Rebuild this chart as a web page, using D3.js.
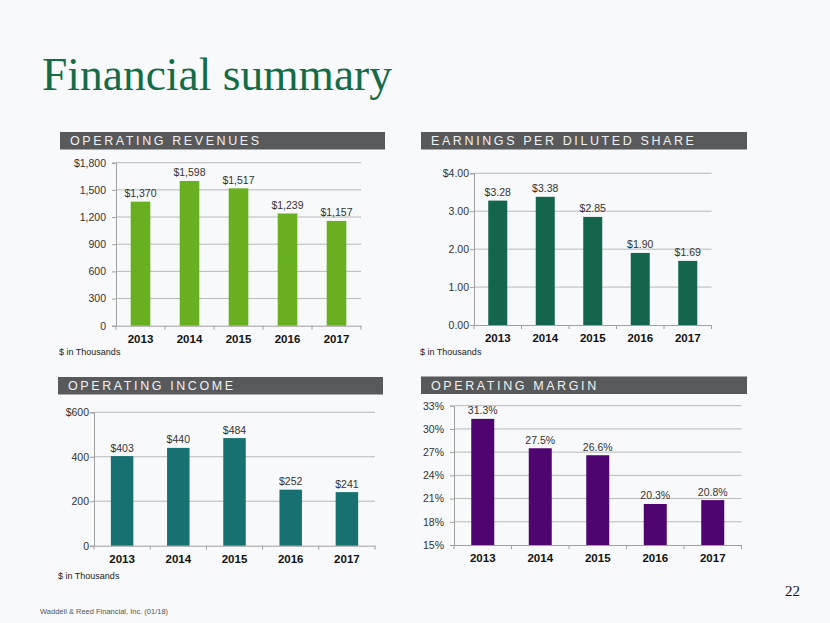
<!DOCTYPE html>
<html><head><meta charset="utf-8">
<script src="https://cdn.jsdelivr.net/npm/d3@7"></script>
<style>
html,body{margin:0;padding:0;background:#f8f9fa;}
svg{display:block;}
</style></head>
<body>
<svg id="c" width="830" height="623"></svg>
<script>
const years = ["2013","2014","2015","2016","2017"];
const revenues = [1370,1598,1517,1239,1157];
const eps = [3.28,3.38,2.85,1.90,1.69];
const opIncome = [403,440,484,252,241];
const opMargin = [31.3,27.5,26.6,20.3,20.8];

const revTicks = [0,300,600,900,1200,1500,1800];
const epsTicks = [0,1,2,3,4];
const incTicks = [0,200,400,600];
const marTicks = [15,18,21,24,27,30,33];

const svg = d3.select("#c");
svg.append("rect").attr("width",830).attr("height",623).attr("fill","#f8f9fa");

svg.append("text").attr("x",42).attr("y",90)
  .attr("font-family","'Liberation Serif','Times New Roman',serif")
  .attr("font-size",45.5).attr("fill","#146c47").text("Financial summary");

svg.append("text").attr("x",785).attr("y",596)
  .attr("font-family","'Liberation Serif','Times New Roman',serif")
  .attr("font-size",15).attr("fill","#111").text("22");

svg.append("text").attr("x",40).attr("y",614)
  .attr("font-family","'Liberation Sans',Arial,sans-serif")
  .attr("font-size",7.5).attr("fill","#555").text("Waddell & Reed Financial, Inc. (01/18)");

const sans = "'Liberation Sans',Arial,sans-serif";

function header(x,y,w,label){
  svg.append("rect").attr("x",x).attr("y",y).attr("width",w).attr("height",17.5).attr("fill","#58595b");
  svg.append("text").attr("x",x+10).attr("y",y+13.2)
    .attr("font-family",sans).attr("font-size",12.5).attr("fill","#f2f2f2")
    .style("letter-spacing","2.6px").text(label);
}

function chart(o){
  const x = d3.scaleBand().domain(years).range([o.x0,o.x1]).paddingInner(0.6).paddingOuter(0.3);
  const y = d3.scaleLinear().domain(o.domain).range([o.yb,o.yt]);
  const g = svg.append("g");
  g.selectAll(".grid").data(o.ticks.slice(1)).join("line")
    .attr("x1",o.x0).attr("x2",o.x1).attr("y1",d=>y(d)).attr("y2",d=>y(d))
    .attr("stroke","#b8b8b8").attr("stroke-width",1);
  const ya = d3.axisLeft(y).tickValues(o.ticks).tickSize(4).tickPadding(o.pad).tickFormat((d,i)=>o.fmt(d,i));
  const yg = g.append("g").attr("transform",`translate(${o.x0},0)`).call(ya);
  yg.select(".domain").attr("stroke","#a0a0a0");
  yg.selectAll(".tick line").attr("stroke","#a0a0a0");
  yg.selectAll("text").attr("font-family",sans).attr("font-size",10.5).attr("fill","#333");
  const xa = d3.axisBottom(x).tickSize(0).tickPadding(9);
  const xg = g.append("g").attr("transform",`translate(0,${o.yb})`).call(xa);
  xg.select(".domain").attr("stroke","#a0a0a0");
  xg.selectAll("text").attr("font-family",sans).attr("font-size",11.5).attr("font-weight","bold").attr("fill","#111");
  const step = x.step();
  g.selectAll(".sep").data(d3.range(6)).join("line")
    .attr("x1",d=>o.x0+d*step).attr("x2",d=>o.x0+d*step)
    .attr("y1",o.yb).attr("y2",o.yb+4).attr("stroke","#a0a0a0");
  g.selectAll(".bar").data(o.values).join("rect")
    .attr("x",(d,i)=>x(years[i])).attr("width",x.bandwidth())
    .attr("y",d=>y(d)).attr("height",d=>o.yb-y(d)).attr("fill",o.color);
  g.selectAll(".lab").data(o.values).join("text")
    .attr("x",(d,i)=>x(years[i])+x.bandwidth()/2).attr("y",d=>y(d)-4.5)
    .attr("text-anchor","middle").attr("font-family",sans).attr("font-size",10.5).attr("fill","#333")
    .text(o.lab);
  if(o.note){
    svg.append("text").attr("x",o.note[0]).attr("y",o.note[1]).attr("font-family",sans)
      .attr("font-size",9).attr("fill","#222").text("$ in Thousands");
  }
}

header(60,132,325,"OPERATING REVENUES");
header(421,132,326,"EARNINGS PER DILUTED SHARE");
header(58,377,325,"OPERATING INCOME");
header(421,376.5,326,"OPERATING MARGIN");

chart({x0:116,x1:361,yt:162.7,yb:325.7,domain:[0,1800],ticks:revTicks,pad:6,
  fmt:(d)=> d===1800 ? "$"+d3.format(",")(d) : d3.format(",")(d),
  values:revenues,color:"#68b01f",lab:d=>"$"+d3.format(",")(d),note:[59,355]});

chart({x0:474,x1:711.5,yt:173.3,yb:325,domain:[0,4],ticks:epsTicks,pad:1,
  fmt:(d)=> d===4 ? "$4.00" : d3.format(".2f")(d),
  values:eps,color:"#13664b",lab:d=>"$"+d3.format(".2f")(d),note:[420,355]});

chart({x0:94,x1:375,yt:412.3,yb:545.7,domain:[0,600],ticks:incTicks,pad:1,
  fmt:(d)=> d===600 ? "$600" : String(d),
  values:opIncome,color:"#187171",lab:d=>"$"+d,note:[58,579]});

chart({x0:454,x1:741.5,yt:405.7,yb:545,domain:[15,33],ticks:marTicks,pad:6,
  fmt:(d)=> d+"%",
  values:opMargin,color:"#4e0570",lab:d=>d3.format(".1f")(d)+"%",note:null});
</script>
</body></html>
